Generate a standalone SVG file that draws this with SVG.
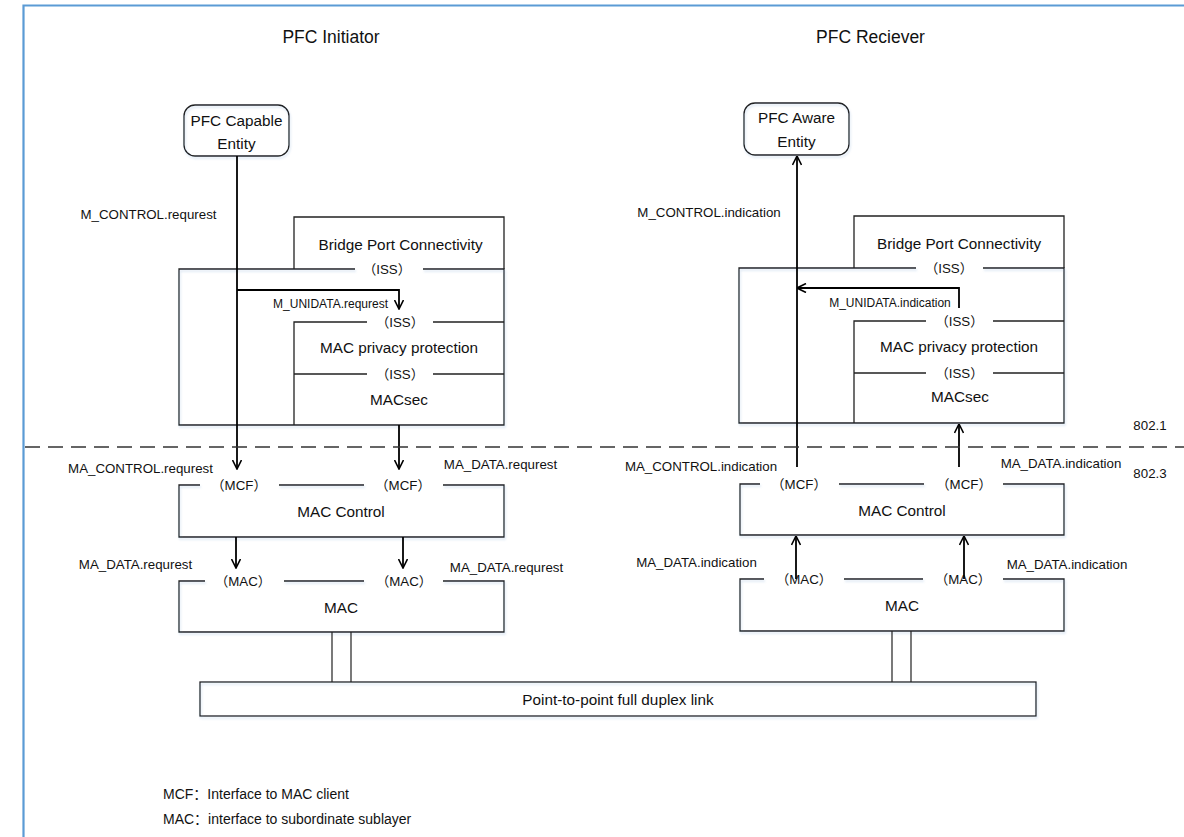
<svg xmlns="http://www.w3.org/2000/svg" width="1184" height="837" viewBox="0 0 1184 837">
<style>
text{font-family:"Liberation Sans","Noto Sans CJK SC",sans-serif;fill:#111}
.t{font-size:17.5px;text-anchor:middle}
.b{font-size:15.3px;text-anchor:middle}
.l{font-size:13.3px;text-anchor:middle}
.s{font-size:12px}
.g{font-size:14px}
.box{fill:none;stroke:#222;stroke-width:1.3}
.c{fill:none;stroke:#000;stroke-width:1.8}
.thin{fill:none;stroke:#222;stroke-width:1.2}
</style>
<defs>
<marker id="arr" viewBox="0 0 10 10" refX="9.5" refY="5" markerWidth="10" markerHeight="10" markerUnits="userSpaceOnUse" orient="auto">
<path d="M0.5,0.5 L9.5,5 L0.5,9.5" fill="none" stroke="#000" stroke-width="1.6"/>
</marker>
<filter id="sh" x="-5%" y="-5%" width="110%" height="120%">
<feDropShadow dx="1" dy="2" stdDeviation="1.2" flood-color="#8fb0d8" flood-opacity="0.35"/>
</filter>
</defs>
<rect x="0" y="0" width="1184" height="837" fill="#fff"/>
<path d="M23.5,837 V5.5 H1184" fill="none" stroke="#5b9bd5" stroke-width="2.2"/>

<g id="titles">
<text class="t" x="331" y="43">PFC Initiator</text>
<text class="t" x="870.5" y="43">PFC Reciever</text>
</g>

<!-- Left stack -->
<g id="pfc-capable-entity">
<rect class="box" x="184" y="105" width="105" height="51" rx="11" filter="url(#sh)"/>
<text class="b" x="236.5" y="125.5">PFC Capable</text>
<text class="b" x="236.5" y="149">Entity</text>
</g>
<g id="left-outer">
<path class="box" d="M355,269 H179 V425 H504 V269 H423" filter="url(#sh)"/>
</g>
<g id="left-bridge-port">
<path class="box" d="M294,269 V217 H504 V269"/>
<text class="b" x="400.5" y="250">Bridge Port Connectivity</text>
<text class="l" x="387" y="273.5">（ISS）</text>
</g>
<g id="left-mac-privacy">
<path class="box" d="M367,322 H294 V425 M433,322 H504 M294,374 H367 M433,374 H504"/>
<text class="l" x="400" y="327">（ISS）</text>
<text class="b" x="399" y="352.5">MAC privacy protection</text>
<text class="l" x="400" y="378.5">（ISS）</text>
<text class="b" x="399" y="405">MACsec</text>
</g>
<g id="left-mac-control">
<path class="box" d="M200,485 H179 V537 H504 V485 H443 M364,485 H279" filter="url(#sh)"/>
<text class="l" x="239" y="490">（MCF）</text>
<text class="l" x="403" y="490">（MCF）</text>
<text class="b" x="341" y="516.5">MAC Control</text>
</g>
<g id="left-mac">
<path class="box" d="M205,581 H179 V632 H504 V581 H443 M364,581 H284" filter="url(#sh)"/>
<text class="l" x="243" y="586">（MAC）</text>
<text class="l" x="404" y="586">（MAC）</text>
<text class="b" x="341" y="612.5">MAC</text>
</g>

<!-- Right stack -->
<g id="pfc-aware-entity">
<rect class="box" x="744" y="103" width="105" height="52" rx="11" filter="url(#sh)"/>
<text class="b" x="796.5" y="123">PFC Aware</text>
<text class="b" x="796.5" y="147">Entity</text>
</g>
<g id="right-outer">
<path class="box" d="M916,268 H739 V423 H1064 V268 H983" filter="url(#sh)"/>
</g>
<g id="right-bridge-port">
<path class="box" d="M854,268 V216 H1064 V268"/>
<text class="b" x="959" y="249">Bridge Port Connectivity</text>
<text class="l" x="949" y="273">（ISS）</text>
</g>
<g id="right-mac-privacy">
<path class="box" d="M926,321 H854 V423 M993,321 H1064 M854,373 H926 M993,373 H1064"/>
<text class="l" x="959.5" y="326">（ISS）</text>
<text class="b" x="959" y="351.5">MAC privacy protection</text>
<text class="l" x="959.5" y="378">（ISS）</text>
<text class="b" x="960" y="401.5">MACsec</text>
</g>
<g id="right-mac-control">
<path class="box" d="M760,484 H740 V535 H1064 V484 H1003 M924,484 H839" filter="url(#sh)"/>
<text class="l" x="799" y="489">（MCF）</text>
<text class="l" x="964" y="489">（MCF）</text>
<text class="b" x="902" y="515.5">MAC Control</text>
</g>
<g id="right-mac">
<path class="box" d="M764,579 H740 V631 H1064 V579 H1003 M923,579 H844" filter="url(#sh)"/>
<text class="l" x="804" y="584">（MAC）</text>
<text class="l" x="963" y="584">（MAC）</text>
<text class="b" x="902" y="610.5">MAC</text>
</g>

<g id="link">
<rect class="box" x="200" y="682" width="836" height="34" filter="url(#sh)"/>
<text class="b" x="618" y="704.5">Point-to-point full duplex link</text>
</g>

<g id="connectors">
<path class="c" d="M237,156 V469" marker-end="url(#arr)"/>
<path class="c" d="M237,290 H399 V309" marker-end="url(#arr)"/>
<path class="c" d="M399,425 V469" marker-end="url(#arr)"/>
<path class="c" d="M236,537 V568" marker-end="url(#arr)"/>
<path class="c" d="M403,537 V568" marker-end="url(#arr)"/>
<path class="c" d="M797,467 V156" marker-end="url(#arr)"/>
<path class="c" d="M959,308 V288 H797" marker-end="url(#arr)"/>
<path class="c" d="M959,467 V424" marker-end="url(#arr)"/>
<path class="c" d="M796,579 V536" marker-end="url(#arr)"/>
<path class="c" d="M964,579 V536" marker-end="url(#arr)"/>
<path class="thin" d="M332,632 V682 M351,632 V682 M892,631 V682 M911,631 V682"/>
<path d="M25,447 H1184" fill="none" stroke="#333" stroke-width="1.4" stroke-dasharray="15 8"/>
</g>

<g id="labels">
<text class="l" x="148.5" y="219">M_CONTROL.requrest</text>
<text class="s" x="388" y="308" text-anchor="end">M_UNIDATA.requrest</text>
<text class="l" x="140.5" y="472.5">MA_CONTROL.requrest</text>
<text class="l" x="500.5" y="468.5">MA_DATA.requrest</text>
<text class="l" x="135.5" y="568.5">MA_DATA.requrest</text>
<text class="l" x="506.5" y="571.5">MA_DATA.requrest</text>
<text class="l" x="709" y="217">M_CONTROL.indication</text>
<text class="s" x="890" y="307" text-anchor="middle">M_UNIDATA.indication</text>
<text class="l" x="701" y="470.5">MA_CONTROL.indication</text>
<text class="l" x="1061" y="467.5">MA_DATA.indication</text>
<text class="l" x="696.5" y="566.5">MA_DATA.indication</text>
<text class="l" x="1067" y="568.5">MA_DATA.indication</text>
<text class="l" x="1150" y="430" text-anchor="start">802.1</text>
<text class="l" x="1150" y="478" text-anchor="start">802.3</text>
</g>

<g id="legend">
<text class="g" x="163" y="799">MCF：Interface to MAC client</text>
<text class="g" x="163" y="824">MAC：interface to subordinate sublayer</text>
</g>
</svg>
